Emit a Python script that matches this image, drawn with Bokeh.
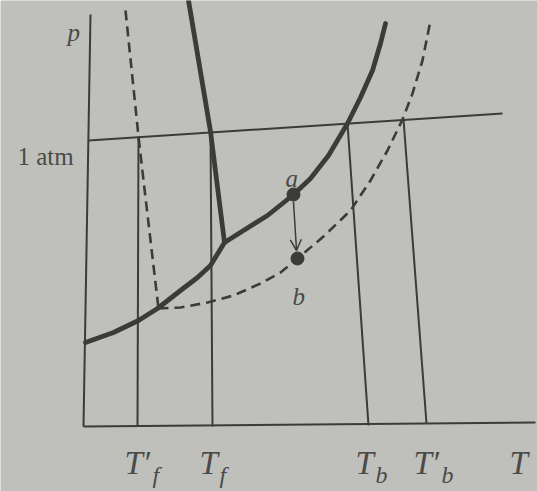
from bokeh.plotting import figure
from bokeh.models import Range1d, Arrow, OpenHead
from bokeh.embed import file_html
from bokeh.resources import INLINE
from bokeh.core.properties import value

# ---- data (T, p) in diagram units, origin at the axes corner ----
# pure solvent: sublimation curve (solid-vapour)
sub_T = [2, 30, 55, 74, 97, 114, 127, 141]
sub_p = [84, 94, 106, 118, 136, 149, 161, 184]
# pure solvent: vapour-pressure curve (liquid-vapour)
vap_T = [141, 160, 184, 209, 227, 245, 264, 277, 289, 297, 302]
vap_p = [184, 196, 211, 231, 248, 271, 303, 329, 356, 383, 403]
# pure solvent: melting curve (solid-liquid)
melt_T = [105, 127, 141]
melt_p = [426, 295, 184]
# solution: melting curve
sol_melt_T = [42, 55, 60, 75]
sol_melt_p = [416, 290, 246, 118]
# solution: vapour-pressure curve
sol_vap_T = [75, 97, 124, 150, 177, 197, 214, 220, 240, 267, 287, 304, 319, 329, 339, 347]
sol_vap_p = [118, 119, 124, 131, 143, 154, 168, 173, 190, 216, 246, 276, 307, 333, 366, 406]

# axes and the 1 atm isobar (photographed figure is slightly tilted)
p_axis_T = [0, 7]
p_axis_p = [0, 412]
T_axis_T = [0, 452]
T_axis_p = [0, 4]
atm_T = [5, 419]
atm_p = [286, 313]

# drop lines from the 1 atm isobar to the T axis
tick_main = ["T\u2032", "T", "T", "T\u2032"]
tick_sub = ["f", "f", "b", "b"]
drop_T_top = [55, 127, 264, 320]
drop_p_top = [290, 295, 303, 307]
drop_T_bot = [54, 129, 285, 343]
drop_p_bot = [1, 0, 1, 3]

# states a (pure solvent) and b (solution)
pt_T = [210, 214]
pt_p = [232, 168]
pt_names = ["a", "b"]

# ---- styling ----
BG = "#bfc0bb"
LINE = "#3b3c3a"
TXT = "#4a4b49"
SERIF = value("Liberation Serif")

p = figure(width=537, height=491, output_backend="svg", toolbar_location=None,
           x_range=Range1d(-83, 454), y_range=Range1d(-65, 426),
           x_axis_type=None, y_axis_type=None, min_border=0,
           background_fill_color=BG, border_fill_color=BG)
p.grid.visible = False
p.outline_line_color = None

thin = dict(line_color=LINE, line_width=2)
p.line(p_axis_T, p_axis_p, **thin)
p.line(T_axis_T, T_axis_p, **thin)
p.line(atm_T, atm_p, **thin)
p.segment(x0=drop_T_top, y0=drop_p_top, x1=drop_T_bot, y1=drop_p_bot, **thin)

thick = dict(line_color=LINE, line_width=4.8, line_cap="round", line_join="round")
p.line(sub_T, sub_p, **thick)
p.line(vap_T, vap_p, **thick)
p.line(melt_T, melt_p, **thick)

dash = dict(line_color=LINE, line_width=2.6, line_dash="10 6")
p.line(sol_melt_T, sol_melt_p, **dash)
p.line(sol_vap_T, sol_vap_p, **dash)

p.scatter(pt_T, pt_p, size=13, color=LINE)
p.add_layout(Arrow(end=OpenHead(size=11, line_width=1.5, line_color=LINE),
                   x_start=pt_T[0], y_start=pt_p[0] - 7,
                   x_end=pt_T[1] - 1, y_end=pt_p[1] + 8,
                   line_color=LINE, line_width=1.5))

ital = dict(text_font=SERIF, text_font_style="italic", text_color=TXT,
            text_baseline="alphabetic", text_align="left")
# point labels
p.text(x=[pt_T[0] - 8, pt_T[1] - 5], y=[pt_p[0] + 16, pt_p[1] - 38], text=pt_names,
       text_font_size="25px", **ital)
# axis names
p.text(x=[-16], y=[394], text=["p"], text_font_size="25px", **ital)
p.text(x=[426], y=[-36], text=["T"], text_font_size="33px", **ital)
# 1 atm label
p.text(x=[-66], y=[270], text=["1 atm"], text_font=SERIF, text_font_size="25px",
       text_color=TXT, text_baseline="alphabetic", text_align="left")
# tick labels with subscripts
main_x = [t - 13 for t in drop_T_bot]
sub_x = [x + (28 if "\u2032" in m else 20) for x, m in zip(main_x, tick_main)]
p.text(x=main_x, y=[-36] * 4, text=tick_main, text_font_size="33px", **ital)
p.text(x=sub_x, y=[-48] * 4, text=tick_sub, text_font_size="24px", **ital)

html = file_html(p, INLINE)
html = html.replace("<body>", '<body style="background-color:%s;">' % BG, 1)
open("out.html", "w").write(html)
